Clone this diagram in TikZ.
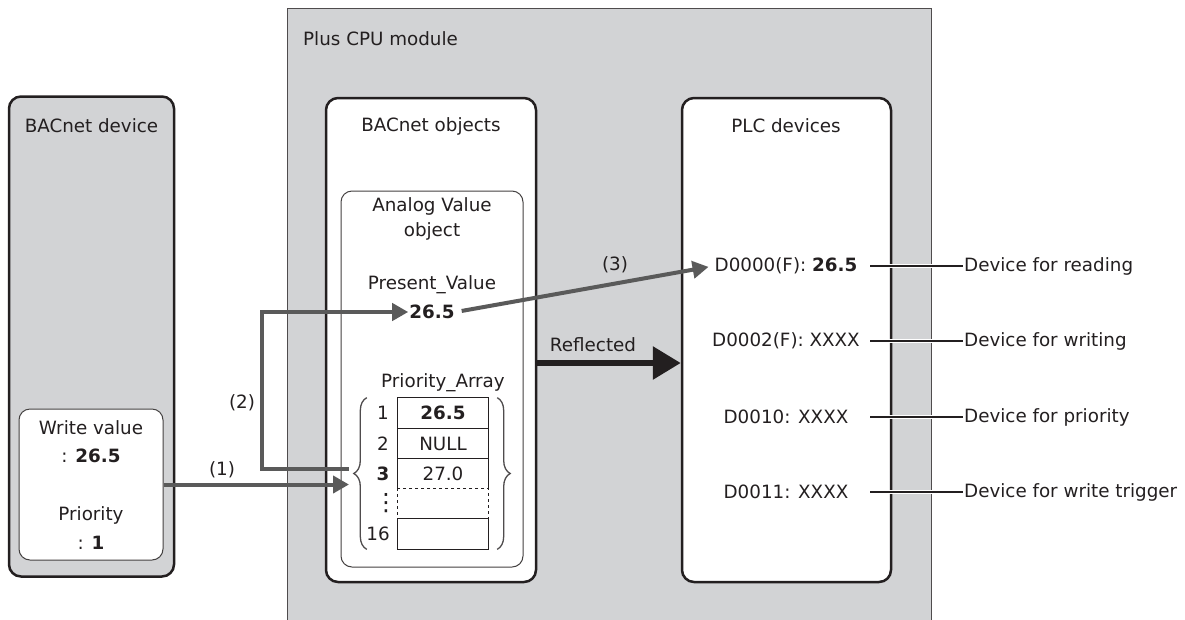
\documentclass[tikz,border=0pt]{standalone}
\usepackage{fontspec}
\setmainfont{DejaVu Sans}
\usetikzlibrary{arrows.meta, positioning, decorations.pathreplacing}
\definecolor{panelgray}{HTML}{D2D3D5}
\definecolor{arrowgray}{HTML}{5A5A5A}
\definecolor{ink}{HTML}{231F20}

\begin{document}
\begin{tikzpicture}[
    x=1pt, y=-1pt,
    font=\fontsize{18.3}{22}\selectfont,
    panel/.style={draw=ink, line width=2.5pt, rounded corners=12pt, fill=white, inner sep=0pt},
    inbox/.style={draw=ink!85, line width=1pt, rounded corners=11pt, fill=white, inner sep=0pt},
    lbl/.style={inner sep=1pt, text=ink},
    cell/.style={minimum width=90pt, minimum height=30.3pt, inner sep=0pt, text=ink},
    grid/.style={draw=ink, line width=1pt},
    arrow/.style={-{Triangle[length=16pt, width=17pt]}, line width=4pt, draw=arrowgray},
    bigarrow/.style={-{Triangle[length=28pt, width=32pt]}, line width=6pt, draw=ink},
    lead/.style={draw=ink, line width=1.2pt, preaction={draw=white, line width=3.6pt}},
    brace/.style={decorate, decoration={brace, amplitude=13pt}, draw=ink!80, line width=1.3pt}
]
  \useasboundingbox (0,0) rectangle (1185,619);

  % module and outer boxes
  \node[draw=ink!80, line width=1pt, fill=panelgray, inner sep=0pt, anchor=north west,
        minimum width=644pt, minimum height=640pt] (cpu) at (287,8.4) {};
  \node[lbl, anchor=west] (cpulbl) at (302,39) {Plus CPU module};

  \node[panel, fill=panelgray, minimum width=165pt, minimum height=480pt] (bdev) at (91.5,336.5) {};
  \node[lbl] (bdevlbl) at (91.5,126) {BACnet device};
  \node[inbox, minimum width=144pt, minimum height=151pt] (write) at (91,484.5) {};
  \node[lbl] (wvlbl) at (91,428) {Write value};
  \node[lbl] (wvval) at (91,456) {: \textbf{26.5}};
  \node[lbl] (prlbl) at (91,515) {Priority};
  \node[lbl] (prval) at (91,543) {: \textbf{1}};

  \node[panel, minimum width=210pt, minimum height=484pt] (bobj) at (431,340) {};
  \node[lbl] (bobjlbl) at (431,126) {BACnet objects};
  \node[inbox, minimum width=182pt, minimum height=376pt] (avo) at (432,379) {};
  \node[lbl, align=center] (avolbl) at (432,219) {Analog Value\\[3pt]object};
  \node[lbl] (pvlbl) at (432,285) {Present\_Value};
  \node[lbl] (pv) at (432,312) {\textbf{26.5}};

  \node[panel, minimum width=209pt, minimum height=484pt] (plc) at (786.5,340) {};
  \node[lbl] (plclbl) at (786,126) {PLC devices};

  % priority array
  \node[lbl] (palbl) at (443,383) {Priority\_Array};
  \node[cell] (c1) at (443,413) {\textbf{26.5}};
  \node[cell] (c2) at (443,443.5) {NULL};
  \node[cell] (c3) at (443,473.5) {27.0};
  \node[cell] (cd) at (443,503.5) {};
  \node[cell] (c16) at (443,534) {};
  \node[lbl] (n1) at (383,413) {1};
  \node[lbl] (n2) at (383,443.5) {2};
  \node[lbl] (n3) at (383,473.5) {\textbf{3}};
  \node[lbl, scale=1.3] (nd) at (386,503) {⋮};
  \node[lbl] (n16) at (378,534) {16};

  \draw[grid] (c3.south west) -- (c1.north west) -- (c1.north east) -- (c3.south east);
  \draw[grid] (c1.south west) -- (c1.south east);
  \draw[grid] (c2.south west) -- (c2.south east);
  \draw[grid, dashed] (cd.north west) rectangle (cd.south east);
  \draw[grid] (c16.north west) rectangle (c16.south east);

  \draw[brace] ([xshift=-31pt]c16.south west) -- ([xshift=-31pt]c1.north west);
  \draw[brace] ([xshift=9pt]c1.north east) -- ([xshift=9pt]c16.south east);

  % PLC devices
  \node[lbl] (d0) at (786,266) {D0000(F): \textbf{26.5}};
  \node[lbl] (d2) at (786,341) {D0002(F): XXXX};
  \node[lbl] (d10) at (786,417) {D0010: XXXX};
  \node[lbl] (d11) at (786,492) {D0011: XXXX};
  \node[lbl, anchor=west] (r0) at (963,266) {Device for reading};
  \node[lbl, anchor=west] (r2) at (963,341) {Device for writing};
  \node[lbl, anchor=west] (r10) at (963,417) {Device for priority};
  \node[lbl, anchor=west] (r11) at (963,492) {Device for write trigger};

  \coordinate (lx) at (870,0);
  \foreach \r in {r0, r2, r10, r11}
    \draw[lead] (\r.west -| lx) -- (\r.west);

  % flows
  \coordinate (lbr) at (349,473);
  \coordinate (turn) at (262,469);
  \coordinate (refl) at (600,363);

  \draw[arrow] (write.east) -- (write.east -| lbr);
  \draw[arrow] (turn -| lbr) -- (turn) |- (pv.west);
  \draw[arrow, shorten <=6pt, shorten >=5pt] (pv.east) -- (d0.west);
  \draw[bigarrow] (refl -| bobj.east) -- (refl -| plc.west);

  \node[lbl] (one) at (222,470) {(1)};
  \node[lbl] (two) at (242,403) {(2)};
  \node[lbl] (three) at (615,265) {(3)};
  \node[lbl] (refllbl) at (593,345) {Reflected};
\end{tikzpicture}
\end{document}
